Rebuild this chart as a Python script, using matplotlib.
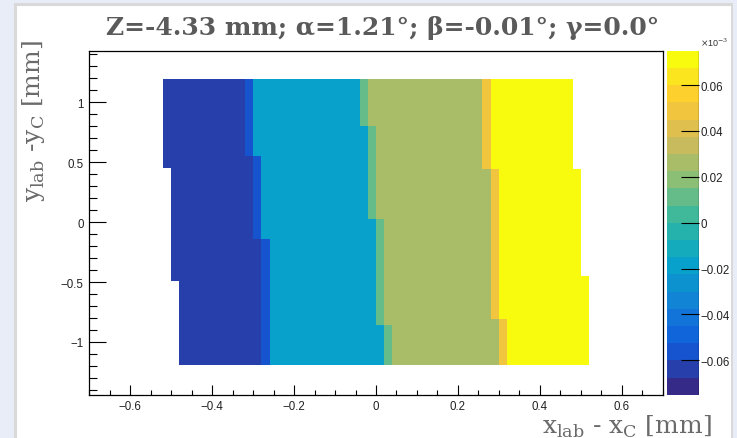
import numpy as np
import matplotlib.pyplot as plt
from matplotlib.colors import LinearSegmentedColormap, BoundaryNorm
from matplotlib.patches import Rectangle
from matplotlib.ticker import MultipleLocator, FixedLocator

plt.rcParams['mathtext.fontset'] = 'custom'
plt.rcParams['mathtext.rm'] = 'DejaVu Serif'

# map values (units of 1e-3): dark blue, transition, cyan, transition, olive, transition, yellow
strip_values = [-0.067, -0.054, -0.022, 0.009, 0.029, 0.050, 0.072]

# staircase edges: (lower y of segment, x of edge), from top down
y_top, y_bottom = 1.19, -1.19
edge_left = [(0.45, -0.52), (-0.49, -0.50), (-1.19, -0.48)]
edge_b1 = [(0.555, -0.32), (-0.139, -0.30), (-1.19, -0.28)]
edge_b2 = [(0.805, -0.04), (0.028, -0.02), (-0.86, 0.00), (-1.19, 0.02)]
edge_b3 = [(0.444, 0.26), (-0.806, 0.28), (-1.19, 0.30)]
edge_right = [(0.445, 0.48), (-0.445, 0.50), (-1.19, 0.52)]
trans_width = 0.02

x_bin = 0.02
y_bin = 0.01

x_edges = np.round(np.arange(-0.52, 0.52 + 1e-9, x_bin), 3)
y_edges = np.round(np.arange(y_bottom, y_top + 1e-9, y_bin), 3)
xc = 0.5 * (x_edges[1:] + x_edges[:-1])
yc = 0.5 * (y_edges[1:] + y_edges[:-1])


def edge_at(edge, y):
    for ylow, x in edge:
        if y >= ylow:
            return x
    return edge[-1][1]


z = np.full((len(yc), len(xc)), np.nan)
for i, y in enumerate(yc):
    xl, xr = edge_at(edge_left, y), edge_at(edge_right, y)
    b = [edge_at(edge_b1, y), edge_at(edge_b2, y), edge_at(edge_b3, y)]
    cuts = [b[0], b[0] + trans_width, b[1], b[1] + trans_width, b[2], b[2] + trans_width]
    for j, x in enumerate(xc):
        if x < xl or x > xr:
            continue
        k = sum(x > c for c in cuts)
        z[i, j] = strip_values[k]

# ROOT kBird palette
stops = [0.0, 0.125, 0.25, 0.375, 0.5, 0.625, 0.75, 0.875, 1.0]
red = [0.2082, 0.0592, 0.0780, 0.0232, 0.1802, 0.5301, 0.8186, 0.9956, 0.9764]
green = [0.1664, 0.3599, 0.5041, 0.6419, 0.7178, 0.7492, 0.7328, 0.7862, 0.9832]
blue = [0.5293, 0.8684, 0.8385, 0.7914, 0.6425, 0.4662, 0.3499, 0.1968, 0.0539]
bird = LinearSegmentedColormap.from_list(
    'bird', list(zip(stops, zip(red, green, blue))), N=256)
levels = np.linspace(-0.075, 0.075, 21)
norm = BoundaryNorm(levels, ncolors=256)

fig = plt.figure(figsize=(7.37, 4.39), dpi=100)
fig.patch.set_facecolor('#e9edf7')
fig.patches.append(Rectangle((15 / 737, -0.05), 718 / 737, 1.05 - 4.5 / 439,
                             transform=fig.transFigure, facecolor='white',
                             edgecolor='#d9d9d9', lw=2.2, zorder=-5))

ax = fig.add_axes([89.3 / 737, 1 - 395.7 / 439, 573.4 / 737, 344 / 439])
mesh = ax.pcolormesh(x_edges, y_edges, np.ma.masked_invalid(z), cmap=bird, norm=norm)
ax.set_xlim(-0.7, 0.7)
ax.set_ylim(-1.44, 1.43)
ax.xaxis.set_major_locator(FixedLocator([-0.6, -0.4, -0.2, 0, 0.2, 0.4, 0.6]))
ax.xaxis.set_minor_locator(MultipleLocator(0.05))
ax.yaxis.set_major_locator(FixedLocator([-1, -0.5, 0, 0.5, 1]))
ax.yaxis.set_minor_locator(MultipleLocator(0.1))
ax.set_xticklabels(['\u22120.6', '\u22120.4', '\u22120.2', '0', '0.2', '0.4', '0.6'])
ax.set_yticklabels(['\u22121', '\u22120.5', '0', '0.5', '1'])
ax.tick_params(axis='x', which='major', direction='in', length=7.2, width=0.8,
               labelsize=8.3, pad=4, labelfontfamily='Liberation Sans', labelcolor='#222222')
ax.tick_params(axis='x', which='minor', direction='in', length=3.6, width=0.8)
ax.tick_params(axis='y', which='major', direction='in', length=12, width=0.8,
               labelsize=8.3, pad=4, labelfontfamily='Liberation Sans', labelcolor='#222222')
ax.tick_params(axis='y', which='minor', direction='in', length=5.8, width=0.8)
for s in ax.spines.values():
    s.set_linewidth(0.9)

cax = fig.add_axes([666.7 / 737, 1 - 395.7 / 439, 32.6 / 737, 344 / 439])
cb = fig.colorbar(mesh, cax=cax, ticks=[-0.06, -0.04, -0.02, 0, 0.02, 0.04, 0.06])
cb.outline.set_visible(False)
cax.axvline(1, color='black', lw=0.9)
cax.set_yticklabels(['\u22120.06', '\u22120.04', '\u22120.02', '0', '0.02', '0.04', '0.06'])
cax.tick_params(axis='y', direction='in', length=12.7, width=0.8, labelsize=8.3,
                pad=1, labelfontfamily='Liberation Sans', labelcolor='#222222')
cax.minorticks_off()
fig.text(700 / 737, 1 - 43 / 439, r'$\times$10$^{-3}$', fontsize=6.5,
         fontfamily='Liberation Sans', ha='left', va='center', color='#333333')

fig.text(383 / 737, 1 - 28 / 439, 'Z=-4.33 mm; \u03b1=1.21\u00b0; \u03b2=-0.01\u00b0; \u03b3=0.0\u00b0',
         ha='center', va='center', fontsize=18, fontfamily='DejaVu Serif',
         weight='bold', color='#5a5a5a')
fig.text(712 / 737, 1 - 433.5 / 439, r'x$_\mathrm{lab}$ - x$_\mathrm{C}$ [mm]',
         ha='right', va='baseline', fontsize=18, fontfamily='DejaVu Serif',
         color='#6a6a6a')
fig.text(34 / 737, 1 - 40 / 439, r'y$_\mathrm{lab}$ -y$_\mathrm{C}$ [mm]', rotation=90,
         ha='center', va='top', fontsize=18, fontfamily='DejaVu Serif',
         color='#6a6a6a')

# panel edge on the right clips the colorbar labels
fig.patches.append(Rectangle((731 / 737, 0), 6 / 737, 1, transform=fig.transFigure,
                             facecolor='#e9edf7', edgecolor='none', zorder=10))
fig.patches.append(Rectangle((730.5 / 737, 0), 2.5 / 737, 1 - 4 / 439,
                             transform=fig.transFigure, facecolor='#d9d9d9',
                             edgecolor='none', zorder=11))

fig.savefig('out.png', dpi=100, facecolor=fig.get_facecolor())
